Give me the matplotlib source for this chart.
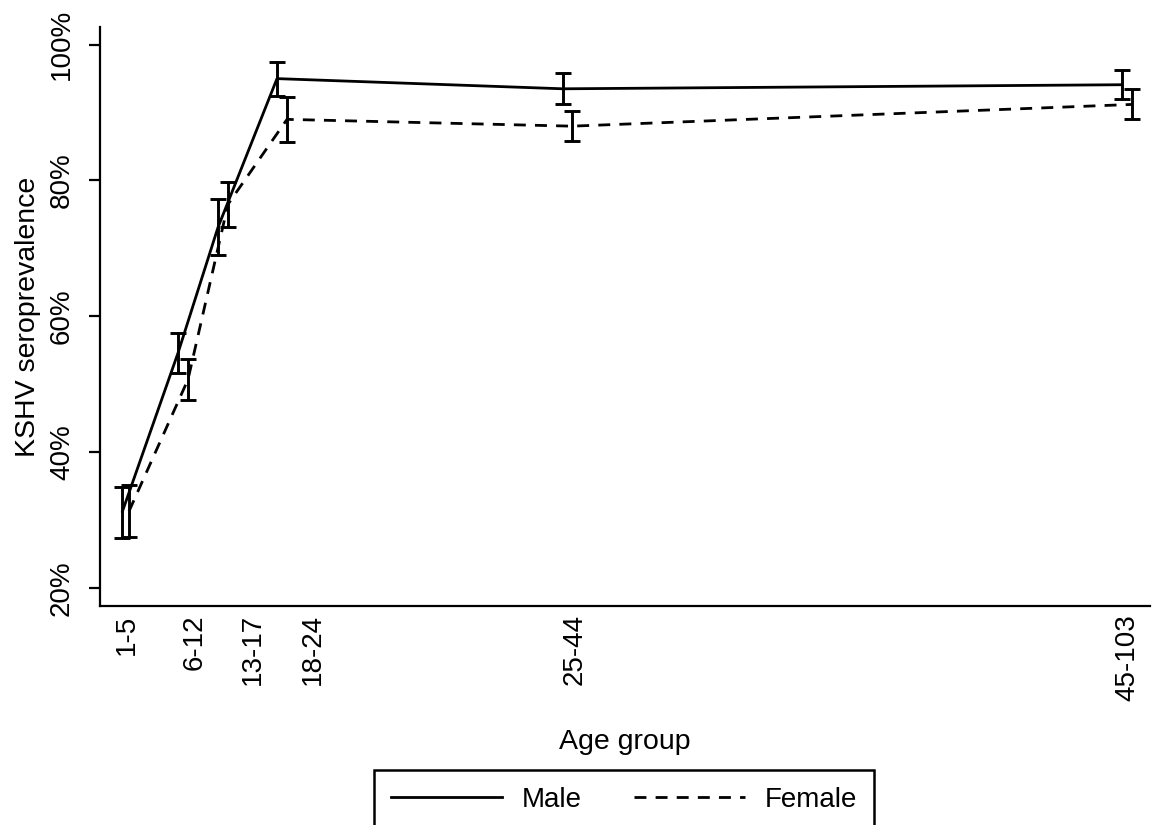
import matplotlib
matplotlib.use("Agg")
import matplotlib.pyplot as plt
from matplotlib.lines import Line2D

plt.rcParams['font.family'] = ['Liberation Sans', 'DejaVu Sans']

# Data (x positions in plot units along the age axis)
tick_pos = [2.7, 9.5, 15.3, 21.3, 47.5, 102.7]
tick_labels = ["1-5", "6-12", "13-17", "18-24", "25-44", "45-103"]

male_x = [2.2, 7.8, 11.8, 17.7, 46.3, 102.2]
male_y = [31.1, 54.6, 73.1, 95.0, 93.5, 94.1]
male_lo = [27.4, 51.6, 69.0, 92.5, 91.2, 92.0]
male_hi = [34.9, 57.6, 77.3, 97.5, 95.8, 96.2]

female_x = [2.9, 8.8, 12.8, 18.7, 47.2, 103.2]
female_y = [31.3, 50.7, 76.5, 89.0, 88.0, 91.2]
female_lo = [27.5, 47.7, 73.1, 85.7, 85.8, 89.1]
female_hi = [35.2, 53.7, 79.8, 92.3, 90.3, 93.4]

W, H = 1152, 825
fig = plt.figure(figsize=(W / 100, H / 100), dpi=100)
ax = fig.add_axes([100 / W, 1 - 606 / H, 1050 / W, (606 - 27) / H])

lw = 2.0
dash = (4.3, 3.3)
ax.plot(male_x, male_y, color='black', lw=lw, solid_capstyle='butt')
ax.plot(female_x, female_y, color='black', lw=lw, dashes=dash)

def err(x, y, lo, hi):
    yerr = [[yy - l for yy, l in zip(y, lo)], [h - yy for yy, h in zip(y, hi)]]
    ax.errorbar(x, y, yerr=yerr, fmt='none', ecolor='black', elinewidth=2.1,
                capsize=5.8, capthick=2.1)

err(male_x, male_y, male_lo, male_hi)
err(female_x, female_y, female_lo, female_hi)

ax.set_xlim(0, 105)
ax.set_ylim(17.35, 102.6)

for s in ['top', 'right']:
    ax.spines[s].set_visible(False)
for s in ['left', 'bottom']:
    ax.spines[s].set_linewidth(1.6)

ax.set_yticks([20, 40, 60, 80, 100])
ax.set_yticklabels(["20%", "40%", "60%", "80%", "100%"], rotation=90, va='center',
                   fontsize=20)
ax.tick_params(axis='y', length=8, width=1.6, pad=10)

ax.set_xticks(tick_pos)
ax.set_xticklabels(tick_labels, rotation=90, fontsize=20)
ax.tick_params(axis='x', length=0, pad=6)

ax.set_xlabel("Age group", fontsize=20.5)
ax.xaxis.set_label_coords(0.5, (606 - 729) / 579)
ax.set_ylabel("KSHV seroprevalence", fontsize=20.5)
ax.yaxis.set_label_coords((41 - 100) / 1050, 0.5)

handles = [Line2D([], [], color='black', lw=lw),
           Line2D([], [], color='black', lw=lw, dashes=dash)]
leg = fig.legend(handles, ["Male", "Female"], loc='upper center', ncol=2,
                 bbox_to_anchor=(624 / W, 1 - 770 / H), borderaxespad=0,
                 fontsize=20, handlelength=4.0, handletextpad=0.7,
                 columnspacing=1.9, borderpad=0.6, fancybox=False,
                 edgecolor='black', framealpha=1)
leg.get_frame().set_linewidth(1.8)

fig.savefig("out.png", dpi=100)
